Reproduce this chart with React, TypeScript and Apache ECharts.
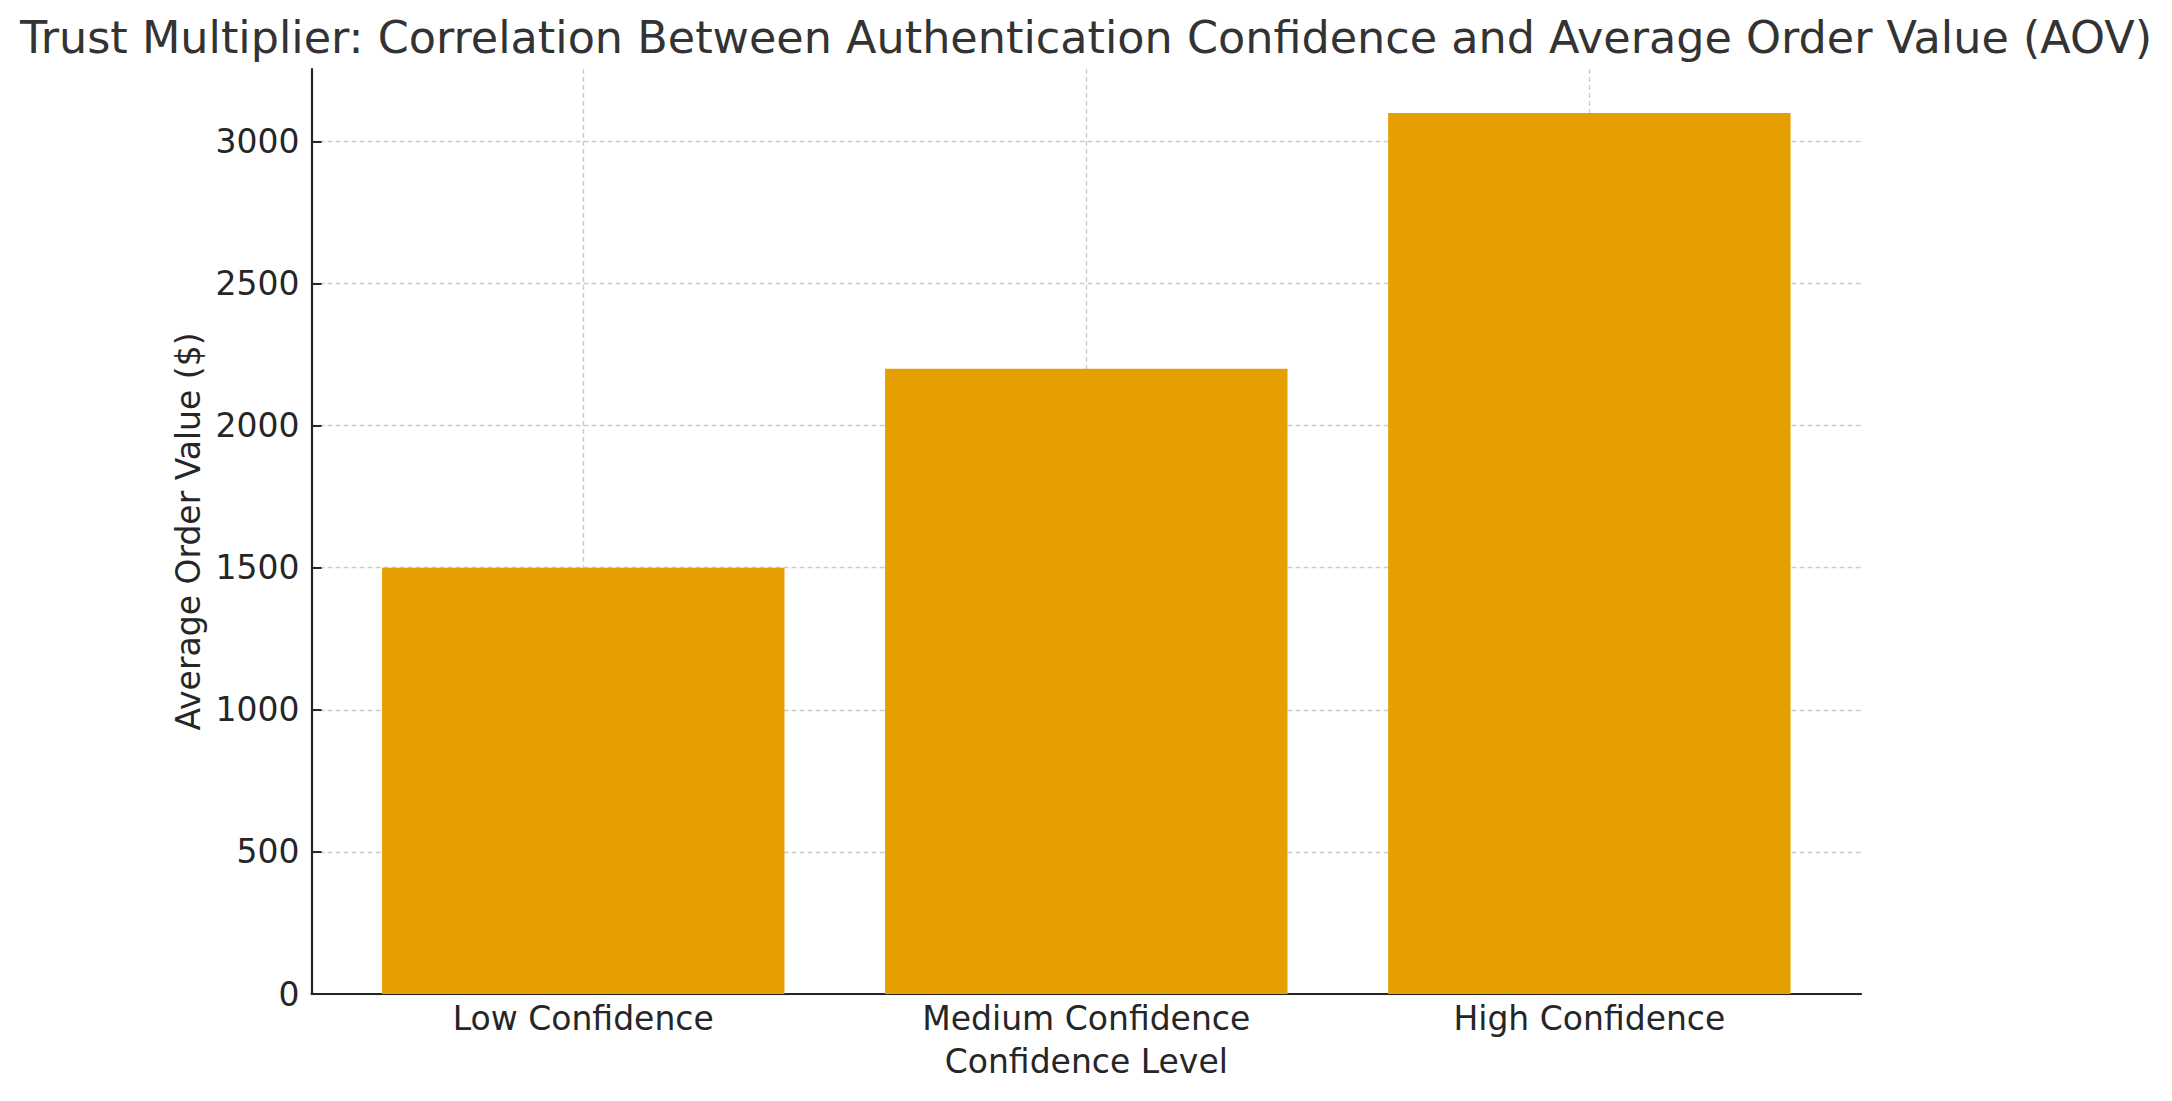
import React, { useEffect, useRef } from "react";
import * as echarts from "echarts";

const titleText = "Trust Multiplier: Correlation Between Authentication Confidence and Average Order Value (AOV)";
const categories = ["Low Confidence", "Medium Confidence", "High Confidence"];
const aovValues = [1500, 2200, 3100];
const yTicks = [0, 500, 1000, 1500, 2000, 2500, 3000];
const xTicks = [0, 1, 2];
const xAxisName = "Confidence Level";
const yAxisName = "Average Order Value ($)";

export default function App() {
  const ref = useRef<HTMLDivElement>(null);
  useEffect(() => {
    if (!ref.current) return;
    const chart = echarts.init(ref.current, undefined, { renderer: "svg" });
    const font = "DejaVu Sans";
    const gridLeft = 311.6;
    const gridRight = 311;
    const plotW = 2172 - gridLeft - gridRight;
    const xMin = -0.54;
    const xMax = 2.54;
    const barW = (0.8 * plotW) / (xMax - xMin);
    const gridLine = { show: true, lineStyle: { color: "#cccccc", width: 1.4, type: [5, 3] as any } };
    chart.setOption({
      animation: false,
      backgroundColor: "#ffffff",
      title: {
        text: titleText,
        left: "center",
        top: 10,
        textStyle: { fontFamily: font, fontSize: 44.5, fontWeight: "normal", color: "#333333" },
      },
      grid: { left: gridLeft, right: gridRight, top: 69, bottom: 107 },
      xAxis: {
        type: "value",
        min: xMin,
        max: xMax,
        name: xAxisName,
        nameLocation: "middle",
        nameGap: 51,
        nameTextStyle: { fontFamily: font, fontSize: 33, color: "#262626" },
        axisLine: { show: true, onZero: false, lineStyle: { color: "#262626", width: 2.2 } },
        axisTick: { show: true, inside: true, length: 10, customValues: xTicks, lineStyle: { color: "#262626", width: 2 } },
        axisLabel: {
          customValues: xTicks,
          margin: 8,
          fontFamily: font,
          fontSize: 33,
          color: "#262626",
          formatter: (v: number) => categories[Math.round(v)] ?? "",
        },
        splitLine: gridLine,
      },
      yAxis: {
        type: "value",
        min: 0,
        max: 3255,
        name: yAxisName,
        nameLocation: "middle",
        nameGap: 96,
        nameTextStyle: { fontFamily: font, fontSize: 33, color: "#262626" },
        axisLine: { show: true, onZero: false, lineStyle: { color: "#262626", width: 2.2 } },
        axisTick: { show: true, inside: true, length: 10, customValues: yTicks, lineStyle: { color: "#262626", width: 2 } },
        axisLabel: {
          customValues: yTicks,
          margin: 12,
          fontFamily: font,
          fontSize: 33,
          color: "#262626",
          formatter: (v: number) => String(v),
        },
        splitLine: gridLine,
      },
      series: [
        {
          type: "bar",
          data: aovValues.map((v, i) => [i, v]),
          barWidth: barW,
          itemStyle: { color: "#E69F00" },
          z: 1,
        },
      ],
    });
    return () => chart.dispose();
  }, []);
  return (
    <div
      ref={ref}
      style={{ position: "fixed", left: 0, top: 0, width: "2172px", height: "1101px", background: "#fff" }}
    />
  );
}
